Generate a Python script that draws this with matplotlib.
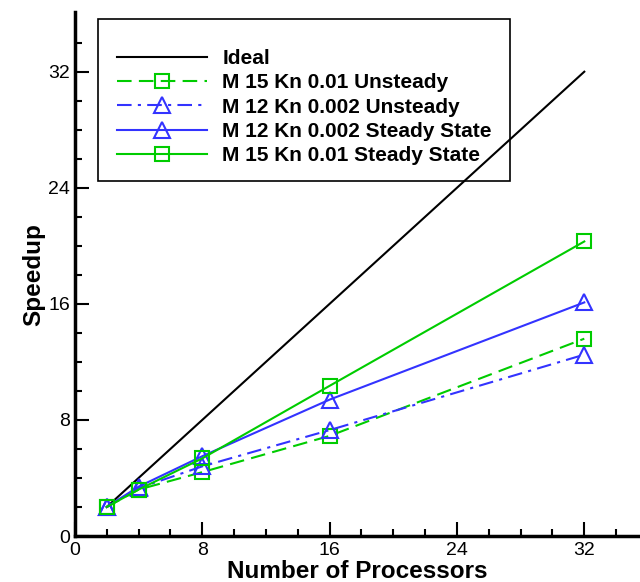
import matplotlib.pyplot as plt
from matplotlib.patches import Rectangle

plt.rcParams['font.family'] = ['Liberation Sans', 'DejaVu Sans']

procs = [2, 4, 8, 16, 32]
ideal = [2, 4, 8, 16, 32]
m15_unsteady = [2.0, 3.2, 4.4, 6.9, 13.6]
m12_unsteady = [2.0, 3.3, 4.8, 7.3, 12.5]
m12_steady = [2.0, 3.4, 5.5, 9.4, 16.1]
m15_steady = [2.0, 3.2, 5.35, 10.35, 20.3]

green = '#00cc00'
blue = '#3333ff'

fig = plt.figure(figsize=(6.4, 5.82), dpi=100)
ax = fig.add_axes([0.117, 0.079, 0.883, 0.9])

ax.plot(procs, ideal, color='black', lw=1.5, label='Ideal')
ax.plot(procs, m15_unsteady, color=green, lw=1.5, ls=(0, (7, 3.5)), marker='s', ms=10,
        mfc='none', mew=1.5, label='M 15 Kn 0.01 Unsteady')
ax.plot(procs, m12_unsteady, color=blue, lw=1.5, ls=(0, (7, 3, 1.5, 3)), marker='^', ms=12,
        mfc='none', mew=1.5, label='M 12 Kn 0.002 Unsteady')
ax.plot(procs, m12_steady, color=blue, lw=1.5, marker='^', ms=12,
        mfc='none', mew=1.5, label='M 12 Kn 0.002 Steady State')
ax.plot(procs, m15_steady, color=green, lw=1.5, marker='s', ms=10,
        mfc='none', mew=1.5, label='M 15 Kn 0.01 Steady State')

ax.set_xlim(0, 35.5)
ax.set_ylim(0, 36.1)
ax.set_xticks([0, 8, 16, 24, 32])
ax.set_yticks([0, 8, 16, 24, 32])
ax.set_xticks(range(2, 35, 2), minor=True)
ax.set_yticks(range(2, 36, 2), minor=True)
ax.tick_params(which='both', direction='in', width=1.5, labelsize=14)
ax.tick_params(which='major', length=10)
ax.tick_params(which='minor', length=5)
ax.tick_params(axis='x', pad=4)
ax.spines['top'].set_visible(False)
ax.spines['right'].set_visible(False)
ax.spines['left'].set_linewidth(2.5)
ax.spines['bottom'].set_linewidth(2.5)

ax.set_xlabel('Number of Processors', fontsize=17.5, fontweight='bold', labelpad=1)
ax.set_ylabel('Speedup', fontsize=17.5, fontweight='bold', labelpad=2)

# legend box
fig.patches.append(Rectangle((98 / 640, 1 - 181 / 582), 412 / 640, 162 / 582,
                             transform=fig.transFigure, fill=False, edgecolor='black',
                             lw=1.2, zorder=5))
leg = ax.legend(loc='upper left', bbox_to_anchor=(117 / 640, 1 - 49 / 582),
                bbox_transform=fig.transFigure, frameon=False, handlelength=4.3,
                handletextpad=0.75, labelspacing=0.255, borderpad=0, borderaxespad=0,
                prop={'weight': 'bold', 'size': 15})

fig.savefig('out.png', dpi=100)
